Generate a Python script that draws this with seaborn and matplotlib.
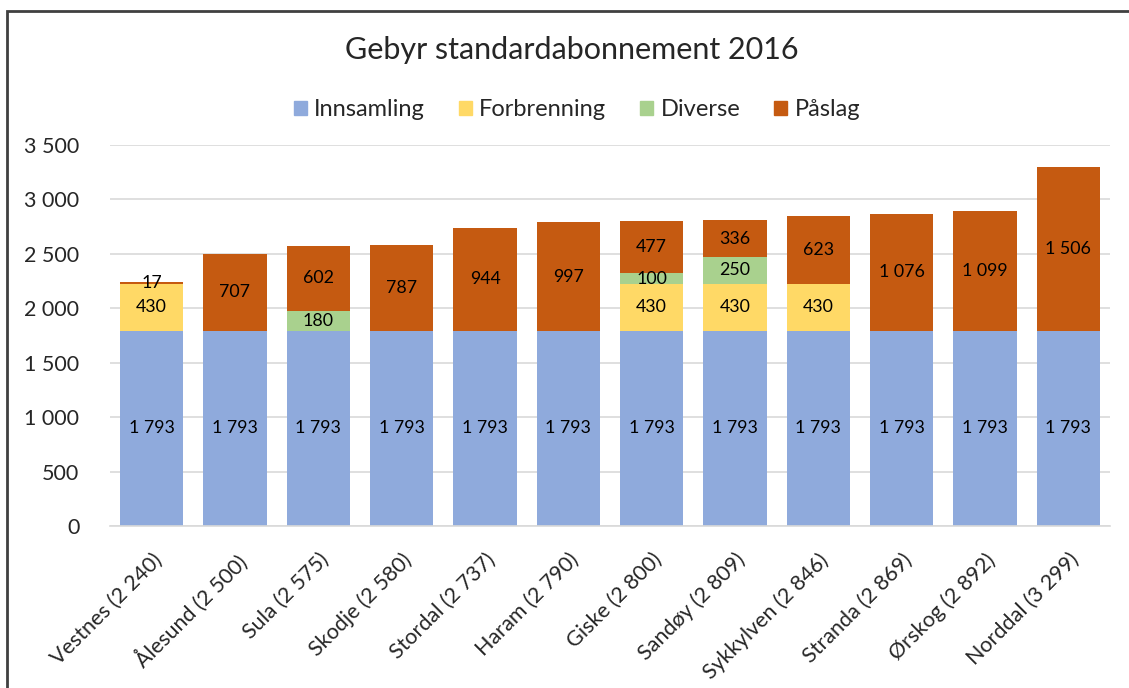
import matplotlib
matplotlib.use("Agg")
import matplotlib.pyplot as plt
import seaborn as sns
import pandas as pd
import numpy as np
from matplotlib.patches import Rectangle

sns.set_theme(style="white")
plt.rcParams['font.family'] = ['Lato', 'DejaVu Sans']

categories = ["Vestnes (2 240)", "Ålesund (2 500)", "Sula (2 575)", "Skodje (2 580)",
              "Stordal (2 737)", "Haram (2 790)", "Giske (2 800)", "Sandøy (2 809)",
              "Sykkylven (2 846)", "Stranda (2 869)", "Ørskog (2 892)", "Norddal (3 299)"]
innsamling = [1793, 1793, 1793, 1793, 1793, 1793, 1793, 1793, 1793, 1793, 1793, 1793]
forbrenning = [430, 0, 0, 0, 0, 0, 430, 430, 430, 0, 0, 0]
diverse = [0, 0, 180, 0, 0, 0, 100, 250, 0, 0, 0, 0]
paslag = [17, 707, 602, 787, 944, 997, 477, 336, 623, 1076, 1099, 1506]

series_names = ["Innsamling", "Forbrenning", "Diverse", "Påslag"]
series_values = [innsamling, forbrenning, diverse, paslag]
colors = ["#8FAADC", "#FFD966", "#A9D18E", "#C55A11"]

def fmt(v):
    return f"{v:,}".replace(",", " ")

fig = plt.figure(figsize=(11.29, 6.88), dpi=100)
ax = fig.add_axes([110/1129, 1-526/688, 1000/1129, (526-145)/688])

bottom = np.zeros(len(categories))
for name, vals, col in zip(series_names, series_values, colors):
    df = pd.DataFrame({"cat": categories, "val": vals})
    sns.barplot(data=df, x="cat", y="val", order=categories, color=col, ax=ax,
                bottom=bottom, width=0.76, saturation=1, label=name, edgecolor="none",
                errorbar=None, legend=False)
    cont = ax.containers[-1]
    labels = [fmt(v) if v > 0 else "" for v in vals]
    ax.bar_label(cont, labels=labels, label_type="center", fontsize=12.8, color="black")
    bottom = bottom + np.array(vals)

ax.set_ylim(0, 3500)
ax.set_xlim(-0.5, len(categories) - 0.5)
ax.set_yticks(range(0, 3501, 500))
ax.set_yticklabels([fmt(v) for v in range(0, 3501, 500)], fontsize=15.5)
ax.set_xticks(range(len(categories)))
ax.set_xticklabels(categories, rotation=45, ha="right", rotation_mode="anchor", fontsize=15.5)
ax.tick_params(axis="y", length=0, pad=22)
ax.tick_params(axis="x", length=0, pad=17)
ax.set_xlabel("")
ax.set_ylabel("")
ax.yaxis.grid(True, color="#D9D9D9", linewidth=1.2)
ax.set_axisbelow(True)
for s in ["top", "right", "left"]:
    ax.spines[s].set_visible(False)
ax.spines["bottom"].set_color("#D9D9D9")
ax.spines["bottom"].set_linewidth(1.2)
if ax.get_legend() is not None:
    ax.get_legend().remove()

fig.text(572/1129, 1-50/688, "Gebyr standardabonnement 2016", ha="center", va="center", fontsize=22)

handles = [Rectangle((0, 0), 1, 1, color=c) for c in colors]
fig.legend(handles, series_names, loc="center", bbox_to_anchor=(577/1129, 1-110/688), ncol=4,
           frameon=False, fontsize=17, handlelength=0.55, handleheight=0.55,
           columnspacing=1.45, handletextpad=0.3)

fig.patches.append(Rectangle((7/1129, -0.1), 1.2, 1.1 - 11/688, transform=fig.transFigure,
                             fill=False, edgecolor="#404040", linewidth=2, zorder=10))

fig.savefig("out.png", dpi=100)
